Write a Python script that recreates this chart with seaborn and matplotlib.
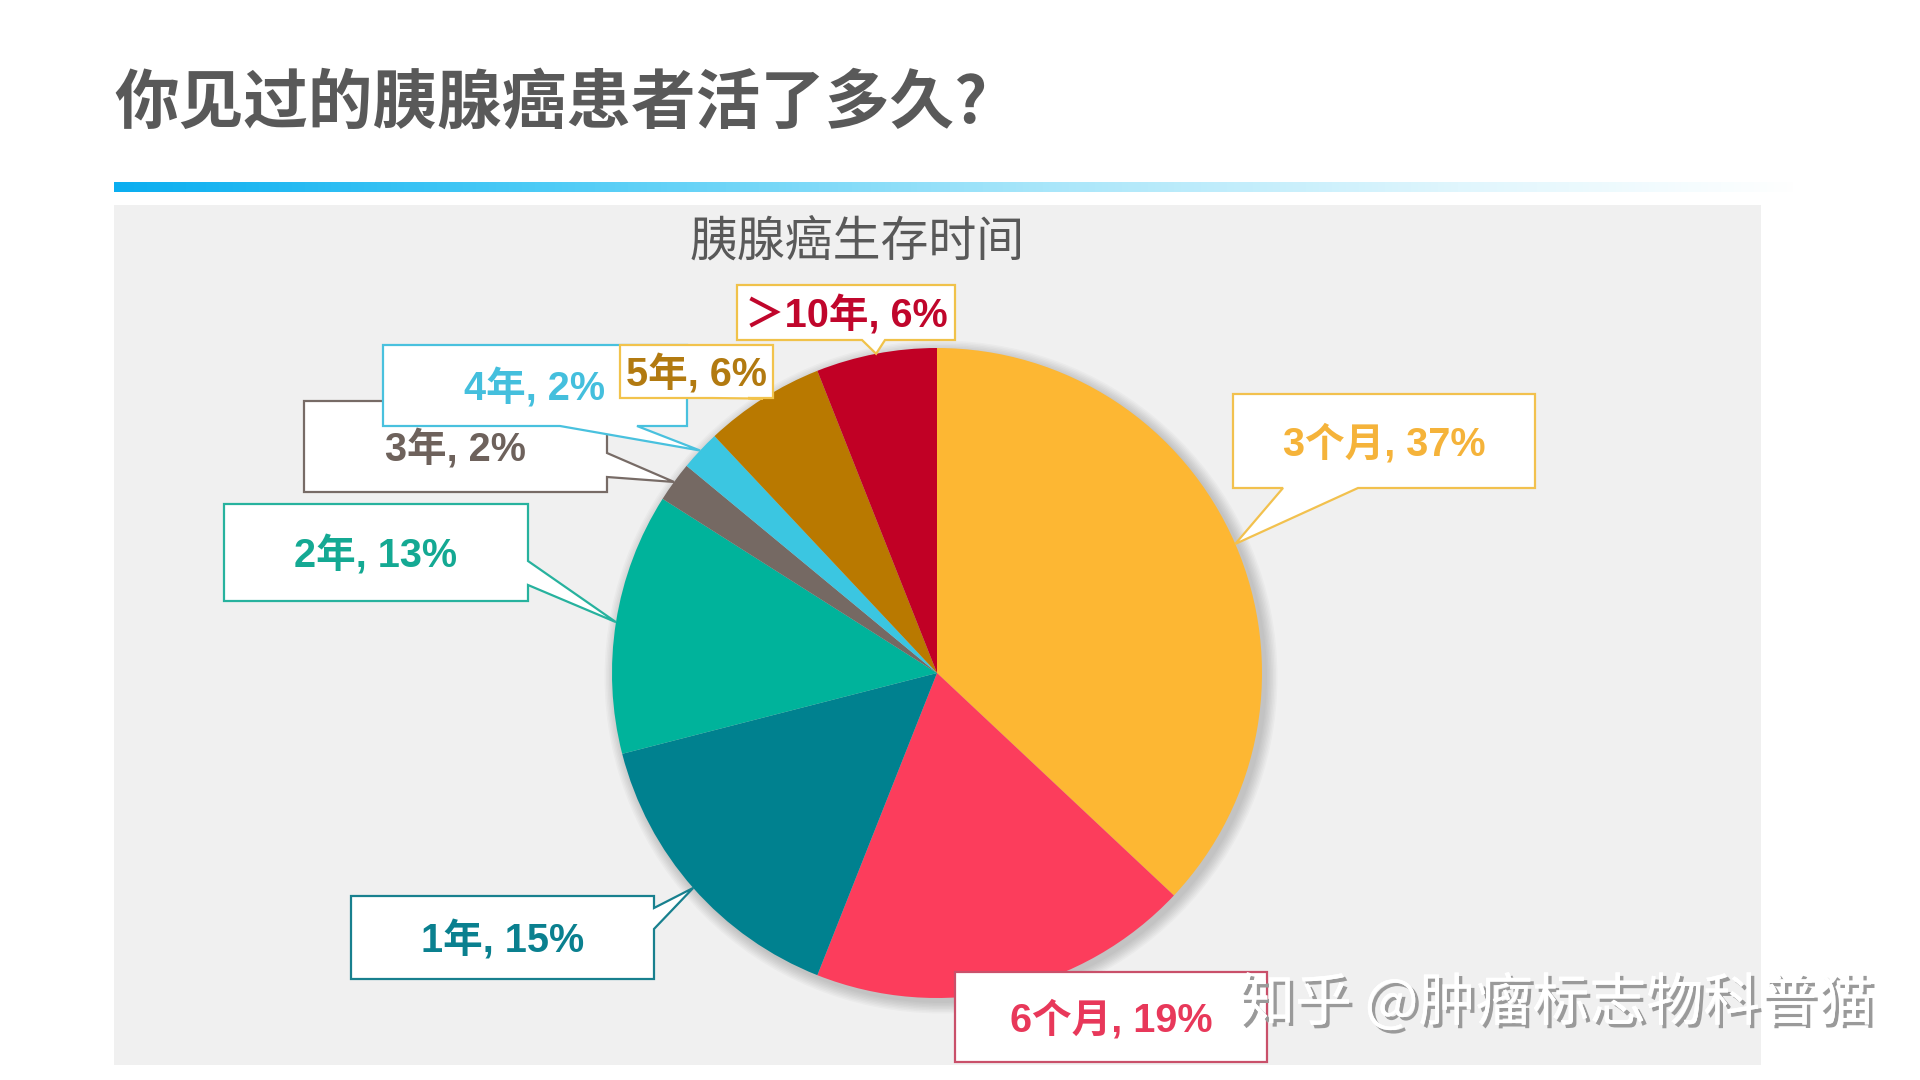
import numpy as np
import matplotlib
matplotlib.use('Agg')
import matplotlib.pyplot as plt
import seaborn as sns
from matplotlib.patches import Polygon, Rectangle, Circle
from matplotlib.colors import LinearSegmentedColormap
import matplotlib.patheffects as pe

# ---------------- data ----------------
main_title = '你见过的胰腺癌患者活了多久?'
chart_title = '胰腺癌生存时间'
watermark = '知乎 @肿瘤标志物科普猫'
categories = ['3个月', '6个月', '1年', '2年', '3年', '4年', '5年', '＞10年']
values = [37, 19, 15, 13, 2, 2, 6, 6]

# ---------------- styles ----------------
slice_colors = ['#FDB733', '#FC3D5C', '#00818F', '#00B39B', '#756963', '#3BC6E1', '#B97900', '#C10025']
text_colors = ['#F5B33A', '#E8385A', '#0A808F', '#14A993', '#6E625C', '#44BFDD', '#B27A10', '#C0062C']
border_colors = ['#F2C14E', '#C9506A', '#18808E', '#27B29E', '#776B66', '#49C1DE', '#F2C34C', '#F0C24A']

# callout boxes in pixel coords (x0, y0, x1, y1), y measured from top
boxes = [(1233, 394, 1535, 488), (955, 972, 1267, 1062), (351, 896, 654, 979),
         (224, 504, 528, 601), (304, 401, 607, 492), (383, 345, 687, 426),
         (620, 345, 773, 398), (737, 285, 955, 340)]
# pointer base: (side, a, b)
pointers = [('bottom', 1283, 1358), (None, 0, 0), ('right', 908, 929),
            ('right', 561, 585), ('right', 453, 477), ('bottom', 560, 637),
            ('bottom', 712, 748), ('bottom', 862, 885)]
draw_order = [0, 1, 2, 3, 4, 5, 6, 7]

W, H = 1920, 1080
def Y(y):
    return H - y

sns.set_theme(style='white')
plt.rcParams['font.family'] = ['Noto Sans CJK SC', 'DejaVu Sans']
label_family = ['Liberation Sans', 'Noto Sans CJK SC']

fig = plt.figure(figsize=(19.2, 10.8), dpi=100, facecolor='white')
ax = fig.add_axes([0, 0, 1, 1])
ax.set_facecolor('white')

# main title
ax.text(114, Y(104), main_title, fontsize=46.5, fontweight='heavy', color='#595959',
        ha='left', va='center', family=['Noto Sans CJK SC', 'DejaVu Sans'])

# gradient bar
grad_cmap = LinearSegmentedColormap.from_list('bar', [(0, '#0AAEF0'), (0.25, '#4CCBF6'),
                                                     (0.55, '#A8E6FA'), (0.8, '#E0F6FD'),
                                                     (1.0, '#FFFFFF')])
grad = np.linspace(0, 1, 512).reshape(1, -1)
ax.imshow(grad, cmap=grad_cmap, extent=(114, 1800, Y(192), Y(182)), aspect='auto', zorder=1)

# grey panel
ax.add_patch(Rectangle((114, Y(1065)), 1761 - 114, 1065 - 205, facecolor='#F0F0F0',
                       edgecolor='none', zorder=0.5))

# chart title
ax.text(857, Y(242), chart_title, fontsize=34.5, color='#595959', ha='center', va='center')

# pie
cx, cy, R = 937, Y(673), 325
for i in range(8):
    ax.add_patch(Circle((cx + 4, cy - 4), R + 1 + i * 1.5, facecolor='black',
                        edgecolor='none', alpha=0.025, zorder=2))
wedges, _ = ax.pie(values, colors=slice_colors, startangle=90, counterclock=False,
                   center=(cx, cy), radius=R, wedgeprops=dict(linewidth=0))
for w in wedges:
    w.set_zorder(3)

# callouts
for k in draw_order:
    w = wedges[k]
    th = np.deg2rad((w.theta1 + w.theta2) / 2)
    tip = (cx + R * np.cos(th), cy + R * np.sin(th))
    x0, y0, x1, y1 = boxes[k]
    side, a, b = pointers[k]
    verts = [(x0, Y(y0)), (x1, Y(y0))]
    if side == 'right':
        verts += [(x1, Y(a)), tip, (x1, Y(b))]
    verts += [(x1, Y(y1))]
    if side == 'bottom':
        verts += [(b, Y(y1)), tip, (a, Y(y1))]
    verts += [(x0, Y(y1))]
    ax.add_patch(Polygon(verts, closed=True, facecolor='white', edgecolor=border_colors[k],
                         linewidth=1.6, joinstyle='miter', zorder=10 + k))
    ax.text((x0 + x1) / 2, Y((y0 + y1) / 2 + 3), f'{categories[k]}, {values[k]}%',
            fontsize=28.5, fontweight='bold', color=text_colors[k], ha='center',
            va='center', family=label_family, zorder=10.5 + k)

# watermark
ax.text(1238, Y(1004), watermark, fontsize=41, color='white', ha='left', va='center',
        zorder=30, path_effects=[pe.withSimplePatchShadow(offset=(2.5, -2.5),
                                                          shadow_rgbFace='#9A9A9A', alpha=1.0),
                                 pe.Normal()])

ax.set_xlim(0, W)
ax.set_ylim(0, H)
ax.set_aspect('auto')
ax.axis('off')

fig.savefig('out.png', dpi=100, facecolor='white')
